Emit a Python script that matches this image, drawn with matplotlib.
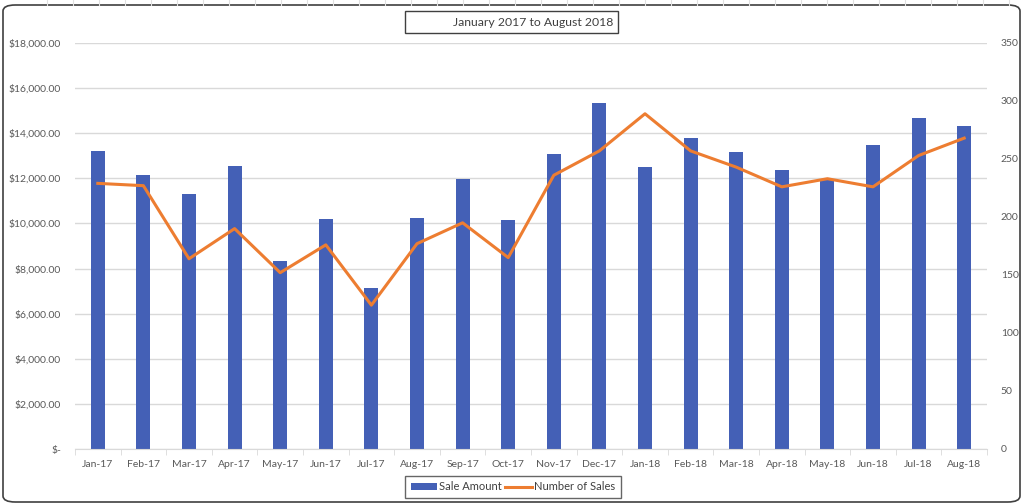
import numpy as np
import matplotlib.pyplot as plt
from matplotlib.patches import FancyBboxPatch, Rectangle
from matplotlib.lines import Line2D
from matplotlib.patches import Patch
from matplotlib.ticker import FuncFormatter

plt.rcParams['font.family'] = ['Lato', 'DejaVu Sans']

months = ['Jan-17', 'Feb-17', 'Mar-17', 'Apr-17', 'May-17', 'Jun-17', 'Jul-17',
          'Aug-17', 'Sep-17', 'Oct-17', 'Nov-17', 'Dec-17', 'Jan-18', 'Feb-18',
          'Mar-18', 'Apr-18', 'May-18', 'Jun-18', 'Jul-18', 'Aug-18']
sale_amount = [13200, 12130, 11320, 12530, 8320, 10200, 7150, 10240, 11970, 10150,
               13090, 15320, 12490, 13800, 13170, 12380, 11950, 13480, 14690, 14330]
num_sales = [229, 227, 164, 190, 152, 176, 124, 177, 195, 165,
             236, 257, 289, 257, 243, 226, 233, 226, 253, 268]

bar_color = '#4460b6'
line_color = '#ed7d31'
grid_color = '#d9d9d9'
text_color = '#595959'

fig = plt.figure(figsize=(10.24, 5.04), dpi=100)

# excel sheet background lines outside the chart
for gx in np.arange(47, 1024, 26):
    fig.add_artist(Line2D([gx / 1024, gx / 1024], [1 - 5 / 504, 1], color='#e0e0e0', lw=0.8))

# chart border
border = FancyBboxPatch((3 / 1024, 2 / 504), 1017 / 1024, 497 / 504,
                        boxstyle='round,pad=0,rounding_size=0.012',
                        transform=fig.transFigure, fill=False, ec='#404040', lw=1.2)
fig.add_artist(border)

ax = fig.add_axes([75 / 1024, 55 / 504, 912 / 1024, 406 / 504])
x = np.arange(len(months))
ax.bar(x, sale_amount, width=0.31, color=bar_color, zorder=2)
ax.set_xlim(-0.5, len(months) - 0.5)
ax.set_ylim(0, 18000)
ax.set_yticks(np.arange(0, 18001, 2000))
ax.yaxis.set_major_formatter(FuncFormatter(lambda v, p: '$-' if v == 0 else f'${v:,.2f}'))
ax.grid(axis='y', color=grid_color, lw=1, zorder=0)
for s in ['top', 'left', 'right']:
    ax.spines[s].set_visible(False)
ax.spines['bottom'].set_color(grid_color)
ax.set_xticks(x)
ax.set_xticklabels(months)
ax.set_xticks(np.arange(-0.5, len(months), 1), minor=True)
ax.tick_params(axis='x', which='major', length=0, pad=8, labelsize=7.5, labelcolor=text_color)
ax.tick_params(axis='x', which='minor', length=4, color=grid_color)
ax.tick_params(axis='y', length=0, pad=10, labelsize=7.5, labelcolor=text_color)

ax2 = ax.twinx()
ax2.plot(x, num_sales, color=line_color, lw=2.2, zorder=3)
ax2.set_ylim(0, 350)
ax2.set_yticks(np.arange(0, 351, 50))
for s in ['top', 'left', 'right', 'bottom']:
    ax2.spines[s].set_visible(False)
ax2.tick_params(axis='y', length=0, pad=10, labelsize=7.5, labelcolor=text_color)

# title box
fig.add_artist(Rectangle((405 / 1024, 1 - 33 / 504), 213 / 1024, 22 / 504,
                         transform=fig.transFigure, fill=True, fc='white',
                         ec='#404040', lw=1))
fig.text(613 / 1024, 1 - 22 / 504, 'January 2017 to August 2018', ha='right', va='center',
         fontsize=8.8, color='#404040')

handles = [Patch(facecolor=bar_color, label='Sale Amount'),
           Line2D([], [], color=line_color, lw=2.2, label='Number of Sales')]
leg = fig.legend(handles=handles, loc='center', bbox_to_anchor=(513 / 1024, 1 - 487 / 504),
                 ncol=2, frameon=True, fontsize=8, handlelength=2.4, handleheight=0.6,
                 columnspacing=0.3, handletextpad=0.2, borderpad=0.5, fancybox=False)
leg.get_frame().set_edgecolor('#404040')
leg.get_frame().set_linewidth(1)
for t in leg.get_texts():
    t.set_color('#404040')

fig.savefig('out.png', dpi=100)
